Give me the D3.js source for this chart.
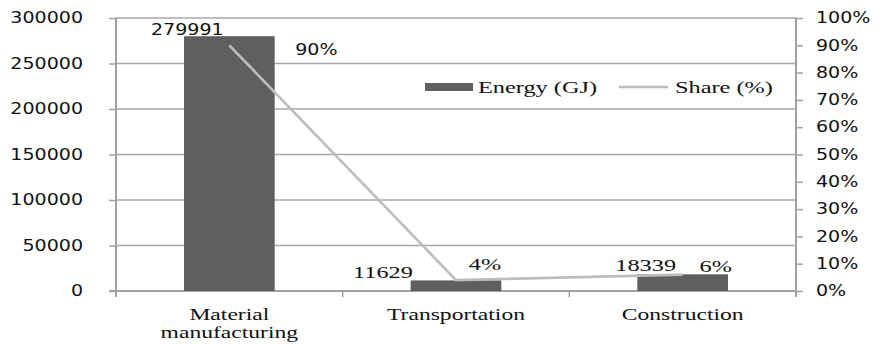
<!DOCTYPE html>
<html>
<head>
<meta charset="utf-8">
<script src="https://cdn.jsdelivr.net/npm/d3@7"></script>
<style>
  html, body { margin: 0; padding: 0; background: #fff; }
  svg { display: block; }
</style>
</head>
<body>
<svg id="chart" width="876" height="344"></svg>
<script>
// ---- data ----
const categories = ["Material manufacturing", "Transportation", "Construction"];
const energyGJ = [279991, 11629, 18339];
const sharePct = [90, 4, 6];
const energyTicks = [0, 50000, 100000, 150000, 200000, 250000, 300000];
const shareTicks = [0, 10, 20, 30, 40, 50, 60, 70, 80, 90, 100];
const seriesNames = ["Energy (GJ)", "Share (%)"];

// ---- layout ----
const W = 876, H = 344;
const plot = { left: 116, right: 796, top: 18, bottom: 291 };
const SANS = "'DejaVu Sans', Verdana, sans-serif";
const SERIF = "'Liberation Serif', 'Times New Roman', serif";
const sansStretch = 1.27, serifStretch = 1.43;
const barColor = "#5f5f5f", lineColor = "#bdbdbd", gridColor = "#a9a9a9", axisColor = "#a0a0a0";

// label placement around each mark (value labels are nudged off the line)
const barLabelOffsets = [[-42, -6, SANS], [-73, -8, SERIF], [-37, -9, SERIF]];
const shareLabelOffsets = [[87, 4, SANS], [29, -16, SERIF], [33, -9, SERIF]];

const svg = d3.select("#chart");

const x = d3.scaleBand().domain(categories)
  .range([plot.left, plot.right]).paddingInner(0.6).paddingOuter(0.3);
const yL = d3.scaleLinear().domain([0, 300000]).range([plot.bottom, plot.top]);
const yR = d3.scaleLinear().domain([0, 100]).range([plot.bottom, plot.top]);

// horizontally stretched text drawn at (px, py)
function stretchedText(g, px, py, str, opt) {
  const s = opt.family === SERIF ? serifStretch : sansStretch;
  return g.append("text")
    .attr("transform", `translate(${px},${py}) scale(${s},1)`)
    .attr("text-anchor", opt.anchor || "middle")
    .attr("dy", opt.dy || "0.35em")
    .style("font-family", opt.family)
    .style("font-size", (opt.size || 15) + "px")
    .attr("fill", "#111")
    .text(str);
}

// gridlines
const grid = svg.append("g");
grid.selectAll("line").data(energyTicks.filter(d => d > 0)).join("line")
  .attr("x1", plot.left).attr("x2", plot.right)
  .attr("y1", d => yL(d)).attr("y2", d => yL(d))
  .attr("stroke", gridColor).attr("stroke-width", 1.5);

// left axis
const axL = svg.append("g").attr("transform", `translate(${plot.left},0)`)
  .call(d3.axisLeft(yL).tickValues(energyTicks).tickSize(7).tickFormat(""));
axL.select(".domain").attr("stroke", axisColor).attr("stroke-width", 2)
  .attr("d", `M-0,${plot.top}V${plot.bottom + 6}`);
axL.selectAll(".tick line").attr("stroke", axisColor).attr("stroke-width", 1.5);
const lblL = svg.append("g");
energyTicks.forEach(t => stretchedText(lblL, 83, yL(t), String(t), { family: SANS, anchor: "end", size: 15 }));

// right axis
const axR = svg.append("g").attr("transform", `translate(${plot.right},0)`)
  .call(d3.axisRight(yR).tickValues(shareTicks).tickSize(7).tickFormat(""));
axR.select(".domain").attr("stroke", axisColor).attr("stroke-width", 2)
  .attr("d", `M0,${plot.top}V${plot.bottom + 6}`);
axR.selectAll(".tick line").attr("stroke", axisColor).attr("stroke-width", 1.5);
const lblR = svg.append("g");
shareTicks.forEach(t => stretchedText(lblR, 816, yR(t), t + "%", { family: SANS, anchor: "start", size: 15 }));

// category axis
const step = x.step();
const catEdges = d3.range(categories.length + 1).map(i => plot.left + i * step);
const axB = svg.append("g");
axB.append("line").attr("x1", plot.left - 7).attr("x2", plot.right)
  .attr("y1", plot.bottom).attr("y2", plot.bottom)
  .attr("stroke", axisColor).attr("stroke-width", 2);
axB.selectAll("line.tk").data(catEdges).join("line").attr("class", "tk")
  .attr("x1", d => d).attr("x2", d => d)
  .attr("y1", plot.bottom).attr("y2", plot.bottom + 6)
  .attr("stroke", axisColor).attr("stroke-width", 1.5);
categories.forEach(c => {
  const cx = x(c) + x.bandwidth() / 2;
  const lines = c === "Material manufacturing" ? ["Material", "manufacturing"] : [c];
  lines.forEach((ln, i) => stretchedText(axB, cx, 320 + i * 18, ln, { family: SERIF, size: 16.5, dy: "0" }));
});

// bars
svg.append("g").selectAll("rect").data(energyGJ).join("rect")
  .attr("x", (d, i) => x(categories[i]))
  .attr("width", x.bandwidth())
  .attr("y", d => yL(d))
  .attr("height", d => yL(0) - yL(d))
  .attr("fill", barColor);

// share line
const line = d3.line()
  .x((d, i) => x(categories[i]) + x.bandwidth() / 2)
  .y(d => yR(d));
svg.append("path").datum(sharePct)
  .attr("d", line).attr("fill", "none")
  .attr("stroke", lineColor).attr("stroke-width", 2.6);

// value labels
const vl = svg.append("g");
energyGJ.forEach((v, i) => {
  const [dx, dy, fam] = barLabelOffsets[i];
  stretchedText(vl, x(categories[i]) + x.bandwidth() / 2 + dx, yL(v) + dy, String(v),
    { family: fam, size: fam === SERIF ? 17 : 15 });
});
sharePct.forEach((v, i) => {
  const [dx, dy, fam] = shareLabelOffsets[i];
  stretchedText(vl, x(categories[i]) + x.bandwidth() / 2 + dx, yR(v) + dy, v + "%",
    { family: fam, size: fam === SERIF ? 17 : 15 });
});

// legend
const lg = svg.append("g");
const legY = 87;
lg.append("rect").attr("x", 425).attr("y", legY - 4).attr("width", 48).attr("height", 8).attr("fill", barColor);
stretchedText(lg, 478, legY, seriesNames[0], { family: SERIF, anchor: "start", size: 17 });
lg.append("line").attr("x1", 619).attr("x2", 668).attr("y1", legY).attr("y2", legY)
  .attr("stroke", lineColor).attr("stroke-width", 2.6);
stretchedText(lg, 675, legY, seriesNames[1], { family: SERIF, anchor: "start", size: 17 });
</script>
</body>
</html>
